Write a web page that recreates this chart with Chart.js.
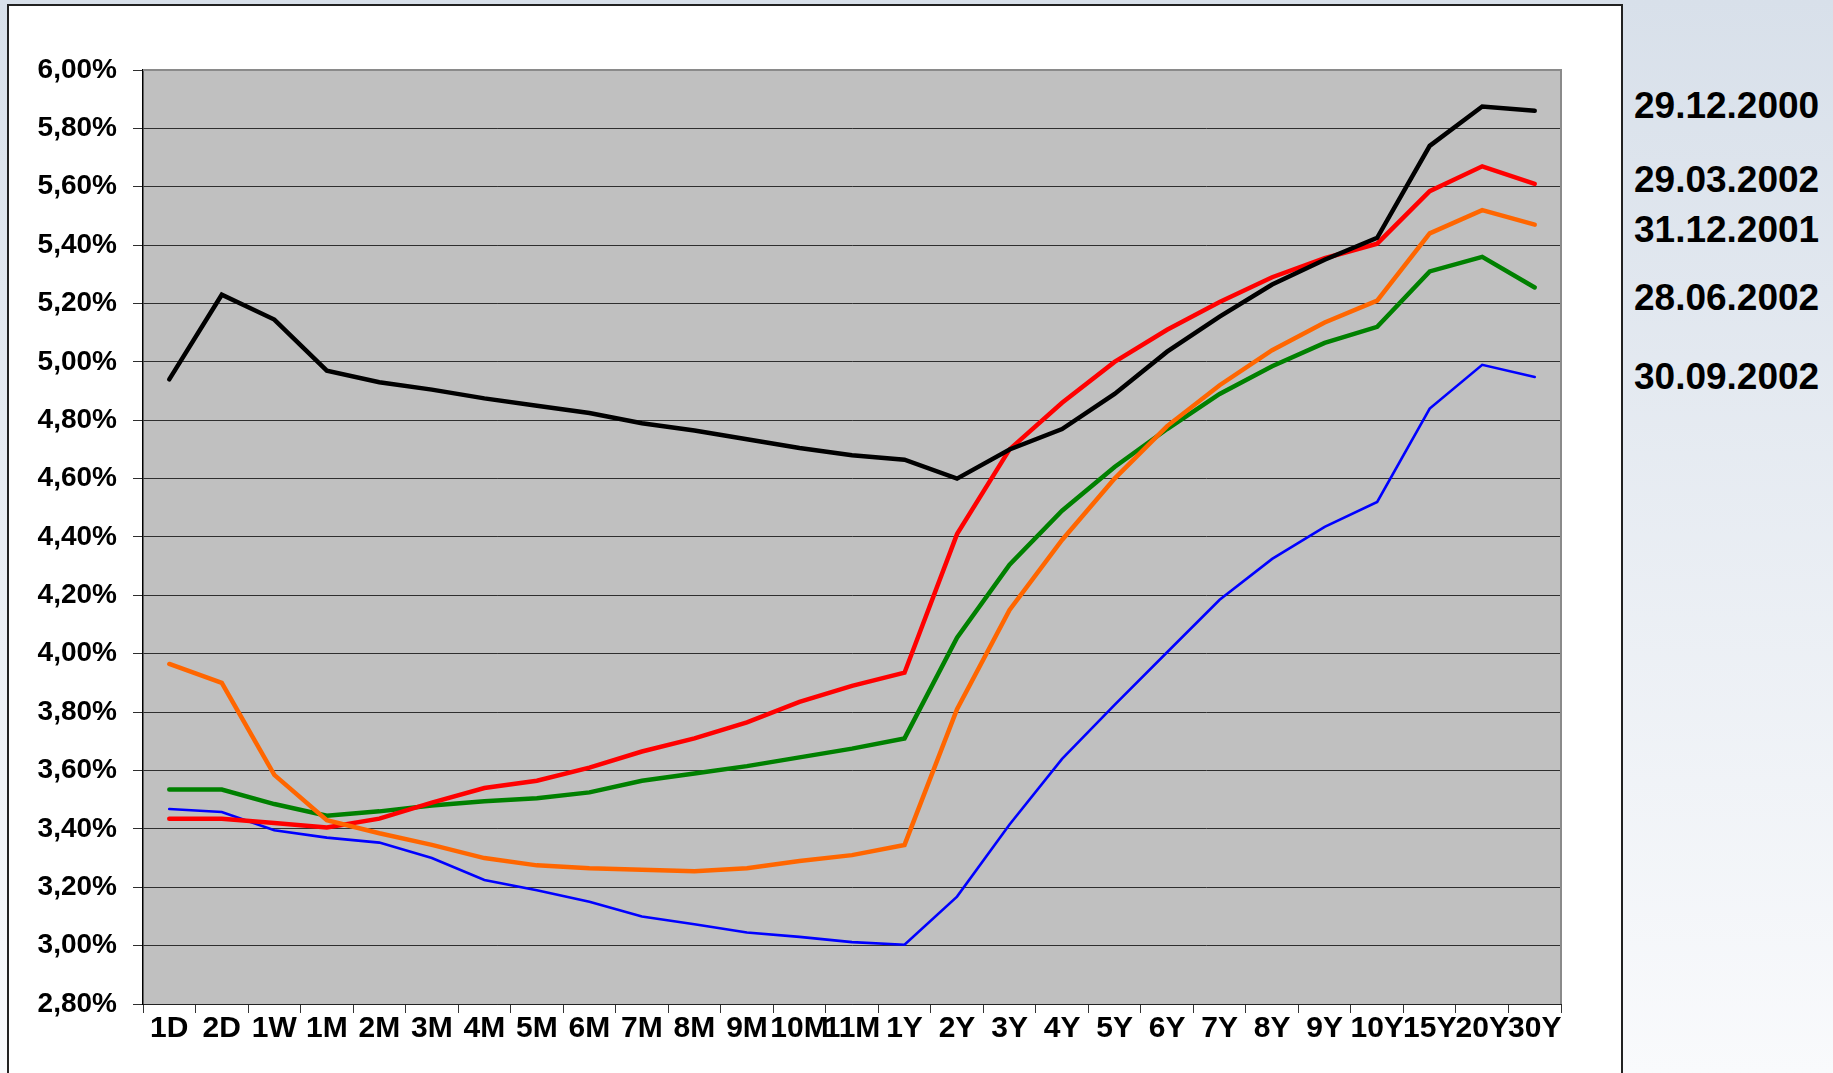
<!DOCTYPE html>
<html>
<head>
<meta charset="utf-8">
<title>Zinsstrukturkurven</title>
<script src="https://cdn.jsdelivr.net/npm/chart.js@4.4.1/dist/chart.umd.min.js"></script>
<style>
  html, body { margin: 0; padding: 0; }
  body {
    width: 1833px; height: 1073px; overflow: hidden; position: relative;
    background: linear-gradient(to bottom, #d8e0ea 0%, #f9fafc 100%);
    font-family: 'Liberation Sans', Arial, sans-serif;
  }
  #panel {
    position: absolute; left: 7px; top: 4px; width: 1616px; height: 1090px;
    background: #fff; border: 2px solid #222; box-sizing: border-box;
  }
  #curveChart { position: absolute; left: 0; top: 0; }
  .tag {
    position: absolute; left: 1634px; font-weight: bold; font-size: 37px;
    line-height: 36px; color: #000; white-space: nowrap;
  }
</style>
</head>
<body>
<div id="panel"><canvas id="curveChart" width="1612" height="1067"></canvas></div>
<div class="tag" style="top:88px">29.12.2000</div>
<div class="tag" style="top:162px">29.03.2002</div>
<div class="tag" style="top:212px">31.12.2001</div>
<div class="tag" style="top:280px">28.06.2002</div>
<div class="tag" style="top:359px">30.09.2002</div>
<script>
// Laufzeiten
var maturities = ['1D','2D','1W','1M','2M','3M','4M','5M','6M','7M','8M','9M','10M','11M',
  '1Y','2Y','3Y','4Y','5Y','6Y','7Y','8Y','9Y','10Y','15Y','20Y','30Y'];

// Zinssätze in %
var rates_29122000 = [4.94,5.23,5.145,4.97,4.93,4.905,4.875,4.85,4.825,4.79,4.765,4.735,4.705,4.68,
  4.665,4.60,4.70,4.77,4.89,5.035,5.155,5.265,5.35,5.425,5.74,5.875,5.86];
var rates_29032002 = [3.435,3.435,3.42,3.405,3.435,3.49,3.54,3.565,3.61,3.665,3.71,3.765,3.835,3.89,
  3.935,4.41,4.70,4.86,5.00,5.11,5.205,5.29,5.355,5.405,5.585,5.67,5.61];
var rates_31122001 = [3.965,3.90,3.585,3.43,3.385,3.345,3.30,3.275,3.265,3.26,3.255,3.265,3.29,3.31,
  3.345,3.81,4.15,4.39,4.60,4.78,4.92,5.04,5.135,5.21,5.44,5.52,5.47];
var rates_28062002 = [3.535,3.535,3.485,3.445,3.46,3.48,3.495,3.505,3.525,3.565,3.59,3.615,3.645,3.675,
  3.71,4.055,4.305,4.49,4.64,4.77,4.89,4.985,5.065,5.12,5.31,5.36,5.255];
var rates_30092002 = [3.468,3.458,3.395,3.37,3.353,3.30,3.225,3.19,3.15,3.10,3.073,3.045,3.03,3.012,
  3.003,3.168,3.415,3.64,3.825,4.005,4.185,4.325,4.435,4.52,4.84,4.99,4.948];

var yMin = 2.8, yMax = 6.0, yStep = 0.2;

(function(){
  var FONT = "'Liberation Sans', Arial, sans-serif";

  // grey plot area + grey frame on top/right like the old Excel chart
  var plotArea = {
    id: 'plotArea',
    beforeDraw: function(chart){
      var a = chart.chartArea, c = chart.ctx;
      c.save();
      c.fillStyle = '#c0c0c0';
      c.fillRect(a.left, a.top, a.right - a.left, a.bottom - a.top);
      c.restore();
    },
    beforeDatasetsDraw: function(chart){
      var a = chart.chartArea, c = chart.ctx;
      c.save();
      c.strokeStyle = '#8a8a8a';
      c.lineWidth = 2;
      c.beginPath();
      c.moveTo(a.left, a.top);
      c.lineTo(a.right, a.top);
      c.lineTo(a.right, a.bottom);
      c.stroke();
      c.restore();
    }
  };

  function line(data, color, width){
    return {
      data: data, borderColor: color, backgroundColor: color, borderWidth: width,
      pointRadius: 0, tension: 0, fill: false,
      borderCapStyle: 'round', borderJoinStyle: 'miter'
    };
  }

  var ctx = document.getElementById('curveChart').getContext('2d');
  window.curveChart = new Chart(ctx, {
    type: 'line',
    data: {
      labels: maturities,
      // first dataset is drawn on top
      datasets: [
        line(rates_29122000, '#000000', 4.5),
        line(rates_31122001, '#ff6600', 4.5),
        line(rates_29032002, '#ff0000', 4.5),
        line(rates_28062002, '#008000', 4.5),
        line(rates_30092002, '#0000ff', 2.6)
      ]
    },
    options: {
      responsive: false,
      animation: false,
      layout: { padding: { top: 64, right: 60, left: 0, bottom: 0 } },
      plugins: { legend: { display: false }, tooltip: { enabled: false } },
      scales: {
        x: {
          offset: true,
          grid: { offset: true, drawOnChartArea: false, drawTicks: true, tickLength: 9, color: '#333', lineWidth: 1 },
          border: { display: true, color: '#222', width: 1 },
          ticks: {
            autoSkip: false, maxRotation: 0, minRotation: 0, padding: -2, color: '#000',
            font: { family: FONT, size: 30, weight: 'bold' }
          },
          afterFit: function(s){ s.height = 69; }
        },
        y: {
          min: yMin, max: yMax,
          grid: { color: '#2e2e2e', lineWidth: 1, tickLength: 10 },
          border: { display: true, color: '#000', width: 1.5 },
          ticks: {
            stepSize: yStep, padding: 16, color: '#000',
            font: { family: FONT, size: 28, weight: 'bold' },
            callback: function(v){ return (Math.round(v * 100) / 100).toFixed(2).replace('.', ',') + '%'; }
          },
          afterFit: function(s){ s.width = 134; }
        }
      }
    },
    plugins: [plotArea]
  });
})();
</script>
</body>
</html>
